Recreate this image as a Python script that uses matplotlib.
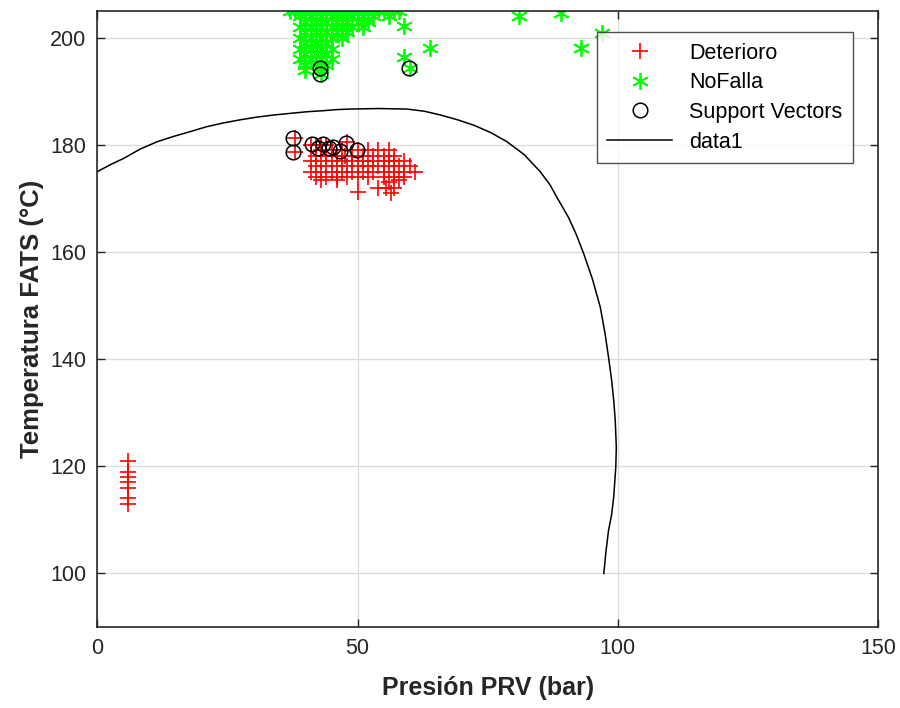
import matplotlib
matplotlib.use('Agg')
import matplotlib.pyplot as plt

plt.rcParams['font.family'] = ['Liberation Sans', 'DejaVu Sans']

# Deterioro (rojo, '+')
det_x = [6, 6, 6, 6, 6, 6, 6,
         38, 38,
         41, 42, 43, 44, 48,
         43, 45, 47, 50, 52, 54, 56,
         42, 44, 46, 47.5, 49, 51, 53, 55, 57,
         41, 43, 45, 47, 49, 51, 53, 55, 56, 57, 59,
         42, 44, 46, 48, 50, 52, 54, 56, 58, 60,
         41, 43, 45, 47, 49, 51, 53, 55, 57, 59, 61,
         42, 44, 46, 48, 50, 52, 55, 57, 59,
         43, 46, 56, 58,
         54, 55.5, 57,
         50, 56.5]
det_y = [121, 119, 118, 117, 116, 114, 113,
         181.3, 178.7,
         180, 180, 180, 180, 180.5,
         179, 179, 179, 179, 179, 179, 179,
         178, 178, 178, 178, 178, 178, 178, 178, 178,
         177, 177, 177, 177, 177, 177, 177, 177, 177, 177, 177,
         176, 176, 176, 176, 176, 176, 176, 176, 176, 176,
         175, 175, 175, 175, 175, 175, 175, 175, 175, 175, 175,
         174, 174, 174, 174, 174, 174, 174, 174, 174,
         173.5, 173.5, 173, 173.5,
         172, 172, 172,
         171.3, 171]

# NoFalla (verde, '*')
nof_x = [37, 38, 39, 40, 41, 42, 43, 44, 45, 46, 47, 48, 49, 50, 51, 52, 53, 54, 55, 57, 58,
         39, 41, 43, 45, 47, 49, 51, 53, 56,
         40, 42, 44, 46, 48, 50, 52,
         39, 41, 43, 45, 47, 49, 51,
         40, 42, 44, 46, 48,
         39, 41, 43, 45, 47,
         40, 42, 44,
         39, 41, 43, 45,
         40, 42, 44,
         39, 41, 43, 45,
         40, 42, 44,
         40, 43, 43,
         59, 59, 64, 81, 89, 93, 97, 60]
nof_y = [205] * 21 + \
        [204] * 9 + \
        [203] * 7 + \
        [202] * 7 + \
        [201] * 5 + \
        [200] * 5 + \
        [199] * 3 + \
        [198] * 4 + \
        [197] * 3 + \
        [196] * 4 + \
        [195] * 3 + \
        [194, 194.4, 193.2,
         202.2, 196.4, 198.1, 204.1, 204.7, 198.1, 200.9, 194.3]

# Support vectors
sv_x = [37.6, 37.6, 41.3, 42.5, 43.4, 44.5, 45.3, 46.6, 47.8, 49.9, 42.8, 42.8, 59.8]
sv_y = [181.3, 178.7, 180.2, 179.4, 180.1, 179.4, 179.6, 178.8, 180.4, 179.1, 194.4, 193.2, 194.3]

# Frontera de decisión (data1)
bnd_x = [0, 2.5, 5.1, 8.2, 11.5, 14.7, 17.9, 21, 24.2, 27.5, 30.7, 34, 37.1, 40.3, 43.5, 46,
         48.6, 54, 59.5, 62.8, 65.9, 69.2, 72.3, 75.6, 78.7, 82, 85.1, 87, 88.3, 90.5, 92, 93.4,
         95.1, 96.6, 97.5, 98.2, 98.8, 99.2, 99.5, 99.7, 99.6, 99.2, 98.8, 98.2, 97.7, 97.3]
bnd_y = [175.0, 176.3, 177.5, 179.2, 180.6, 181.6, 182.5, 183.4, 184.1, 184.7, 185.2, 185.6, 185.9, 186.2,
         186.4, 186.6, 186.7, 186.8, 186.7, 186.3, 185.6, 184.7, 183.7, 182.3, 180.6, 178.2, 175.0,
         172.5, 170.2, 166.5, 163.3, 159.8, 155.0, 149.8, 145.0, 140.4, 136.1, 132.3, 128.5, 123.5,
         119.9, 114.3, 111.0, 108.0, 104.0, 100.0]

fig = plt.figure(figsize=(9, 7.08), dpi=100)
ax = fig.add_axes([0.108, 0.1144, 0.8678, 0.870])

ax.plot(det_x, det_y, '+', color='red', markersize=12, markeredgewidth=1.2, label='Deterioro')
ax.plot(nof_x, nof_y, marker=(6, 2, 0), linestyle='none', color='#00ff00', markersize=12,
        markeredgewidth=1.3, label='NoFalla')
ax.plot(sv_x, sv_y, 'o', markerfacecolor='none', markeredgecolor='black', markersize=10.5,
        markeredgewidth=1.1, label='Support Vectors')
ax.plot(bnd_x, bnd_y, '-', color='black', linewidth=1.1, label='data1')

ax.set_xlim(0, 150)
ax.set_ylim(90, 205)
ax.set_xticks([0, 50, 100, 150])
ax.set_yticks([100, 120, 140, 160, 180, 200])
ax.grid(True, color='#dcdcdc', linewidth=1.0)
ax.set_axisbelow(True)

dark = '#262626'
for s in ax.spines.values():
    s.set_color(dark)
    s.set_linewidth(1.2)
ax.tick_params(direction='in', length=6, width=1.0, colors=dark, labelsize=15.5,
               top=True, right=True, pad=8)

ax.set_xlabel('Presión PRV (bar)', fontsize=18, fontweight='bold', color=dark, labelpad=12)
ax.set_ylabel('Temperatura FATS (°C)', fontsize=18.5, fontweight='bold', color=dark, labelpad=4)

leg = ax.legend(loc='upper right', bbox_to_anchor=(0.968, 0.966), borderaxespad=0,
                fontsize=15.5, frameon=True, fancybox=False, edgecolor=dark,
                handlelength=3.0, borderpad=0.5, labelspacing=0.4, handletextpad=0.8)
leg.get_frame().set_linewidth(1.0)

fig.savefig('out.png', dpi=100)
